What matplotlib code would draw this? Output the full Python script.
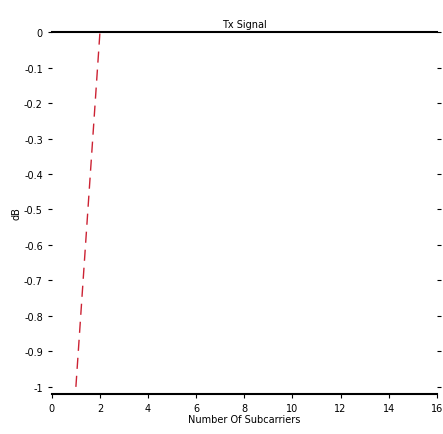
import matplotlib
matplotlib.use("Agg")
import matplotlib.pyplot as plt

# data
signal_x = [0, 16]
signal_y = [0, 0]
ref_x = [1, 2]
ref_y = [-1, 0]
xticks = [0, 2, 4, 6, 8, 10, 12, 14, 16]
yticks = [0, -0.1, -0.2, -0.3, -0.4, -0.5, -0.6, -0.7, -0.8, -0.9, -1]
title = "Tx Signal"
xlabel = "Number Of Subcarriers"
ylabel = "dB"

fig = plt.figure(figsize=(4.43, 4.35), dpi=100)
ax = fig.add_axes([0.117, 0.092, 0.869, 0.832])
ax.plot(signal_x, signal_y, color="black", lw=1.5, clip_on=False)
ax.plot(ref_x, ref_y, color="#cc2233", lw=1.0, ls=(0, (8, 5)))
ax.set_xlim(0, 16)
ax.set_ylim(-1.02, 0)
ax.set_xticks(xticks)
ax.set_yticks(yticks)
ax.set_yticklabels(["0"] + [f"{v:.1f}" for v in yticks[1:-1]] + ["-1"])
for s in ["left", "right", "top"]:
    ax.spines[s].set_visible(False)
ax.spines["bottom"].set_linewidth(1.5)
ax.tick_params(axis="both", labelsize=7, length=3, width=0.8)
ax.tick_params(axis="y", right=True, direction="out")
ax.set_title(title, fontsize=7, pad=4)
ax.set_xlabel(xlabel, fontsize=7, labelpad=1)
ax.set_ylabel(ylabel, fontsize=7, labelpad=2)
fig.savefig("out.png", dpi=100)
